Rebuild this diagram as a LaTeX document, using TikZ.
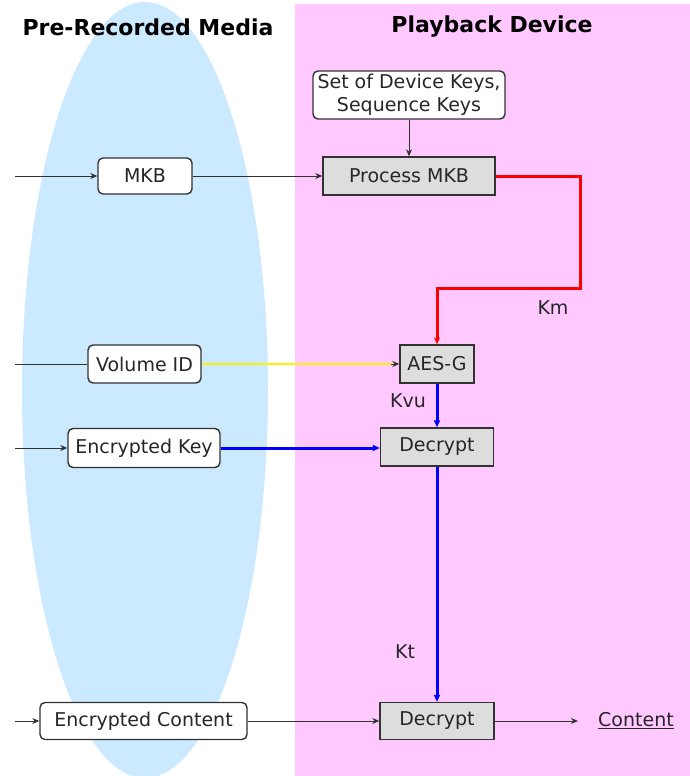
\documentclass[tikz,border=0pt]{standalone}
\usepackage{fontspec}
\setmainfont{DejaVu Sans}
\usetikzlibrary{arrows.meta}
\definecolor{devpink}{RGB}{255,200,255}
\definecolor{mediablue}{RGB}{204,234,255}
\definecolor{boxgray}{RGB}{221,221,221}
\definecolor{wire}{RGB}{50,50,50}
\begin{document}
\begin{tikzpicture}[x=1pt,y=-1pt,
  every node/.style={font=\fontsize{19}{22}\selectfont, text=black!85},
  mediabox/.style={draw=wire, line width=1.4pt, fill=white, rounded corners=5pt, inner sep=0pt},
  procbox/.style={draw=wire, line width=1.4pt, fill=boxgray, inner sep=0pt},
  title/.style={font=\fontsize{22}{24}\selectfont\bfseries, text=black},
  flow/.style={draw=wire, line width=1pt, -{Stealth[length=7pt,width=6pt]}},
  plain/.style={draw=wire, line width=1pt},
  keyflow/.style={line width=3pt, -{Stealth[length=7pt,width=6pt,inset=0pt]}}
]
\useasboundingbox (0,0) rectangle (690,776);
% backgrounds
\fill[devpink] (295,4) rectangle (690,776);
\fill[mediablue] (145,390) ellipse [x radius=123, y radius=388];

% headings
\node[title] (thead1) at (148,27) {Pre-Recorded Media};
\node[title] (thead2) at (492,27) {Playback Device};

% boxes
\node[mediabox, minimum width=192, minimum height=48, align=center,
      font=\fontsize{19}{23}\selectfont] (keys) at (409,95) {Set of Device Keys,\\Sequence Keys};
\node[procbox, minimum width=172, minimum height=38] (pmkb) at (409,176) {Process MKB};
\node[mediabox, minimum width=94, minimum height=36] (mkb) at (145,176) {MKB};
\node[procbox, minimum width=74, minimum height=38] (aes) at (437,364) {AES-G};
\node[mediabox, minimum width=113, minimum height=38] (vol) at (144.5,364) {Volume ID};
\node[procbox, minimum width=113, minimum height=38] (dec1) at (437,447) {Decrypt};
\node[mediabox, minimum width=152, minimum height=39] (ekey) at (144,448) {Encrypted Key};
\node[procbox, minimum width=114, minimum height=37] (dec2) at (437,721) {Decrypt};
\node[mediabox, minimum width=207, minimum height=37] (econt) at (143.5,721) {Encrypted Content};
\node (out) at (636,721) {\underline{Content}};

% labels
\node (km) at (553,308) {Km};
\node (kvu) at (408,401) {Kvu};
\node (kt) at (405,652) {Kt};

% free ends on the left
\coordinate (in1) at (15,176);
\coordinate (in2) at (15,364);
\coordinate (in3) at (15,448);
\coordinate (in4) at (15,721);
\coordinate (bend) at (580,288);

% connectors
\draw[flow] (in1) -- (mkb.west);
\draw[flow] (mkb.east) -- (pmkb.west);
\draw[flow] (keys.south) -- (keys.south |- pmkb.north);
\draw[plain] (in2) -- (vol.west);
\draw[flow] (in3) -- (ekey.west);
\draw[flow] (in4) -- (econt.west);
\draw[flow] (econt.east) -- (dec2.west);
\draw[flow] (dec2.east) -- (578,721);

\draw[red, line width=3pt, -{Stealth[length=7pt,width=6pt]}]
  (pmkb.east) -| (bend) -| (aes.north);
\draw[yellow, line width=2.5pt] (vol.east) -- ([xshift=-6pt]aes.west);
\draw[wire, line width=1pt, -{Stealth[length=7pt,width=6pt]}] ([xshift=-8pt]aes.west) -- (aes.west);
\draw[blue, keyflow] (aes.south) -- (aes.south |- dec1.north);
\draw[blue, keyflow] (ekey.east) -- (ekey.east -| dec1.west);
\draw[blue, keyflow] (dec1.south) -- (dec1.south |- dec2.north);
\end{tikzpicture}
\end{document}
